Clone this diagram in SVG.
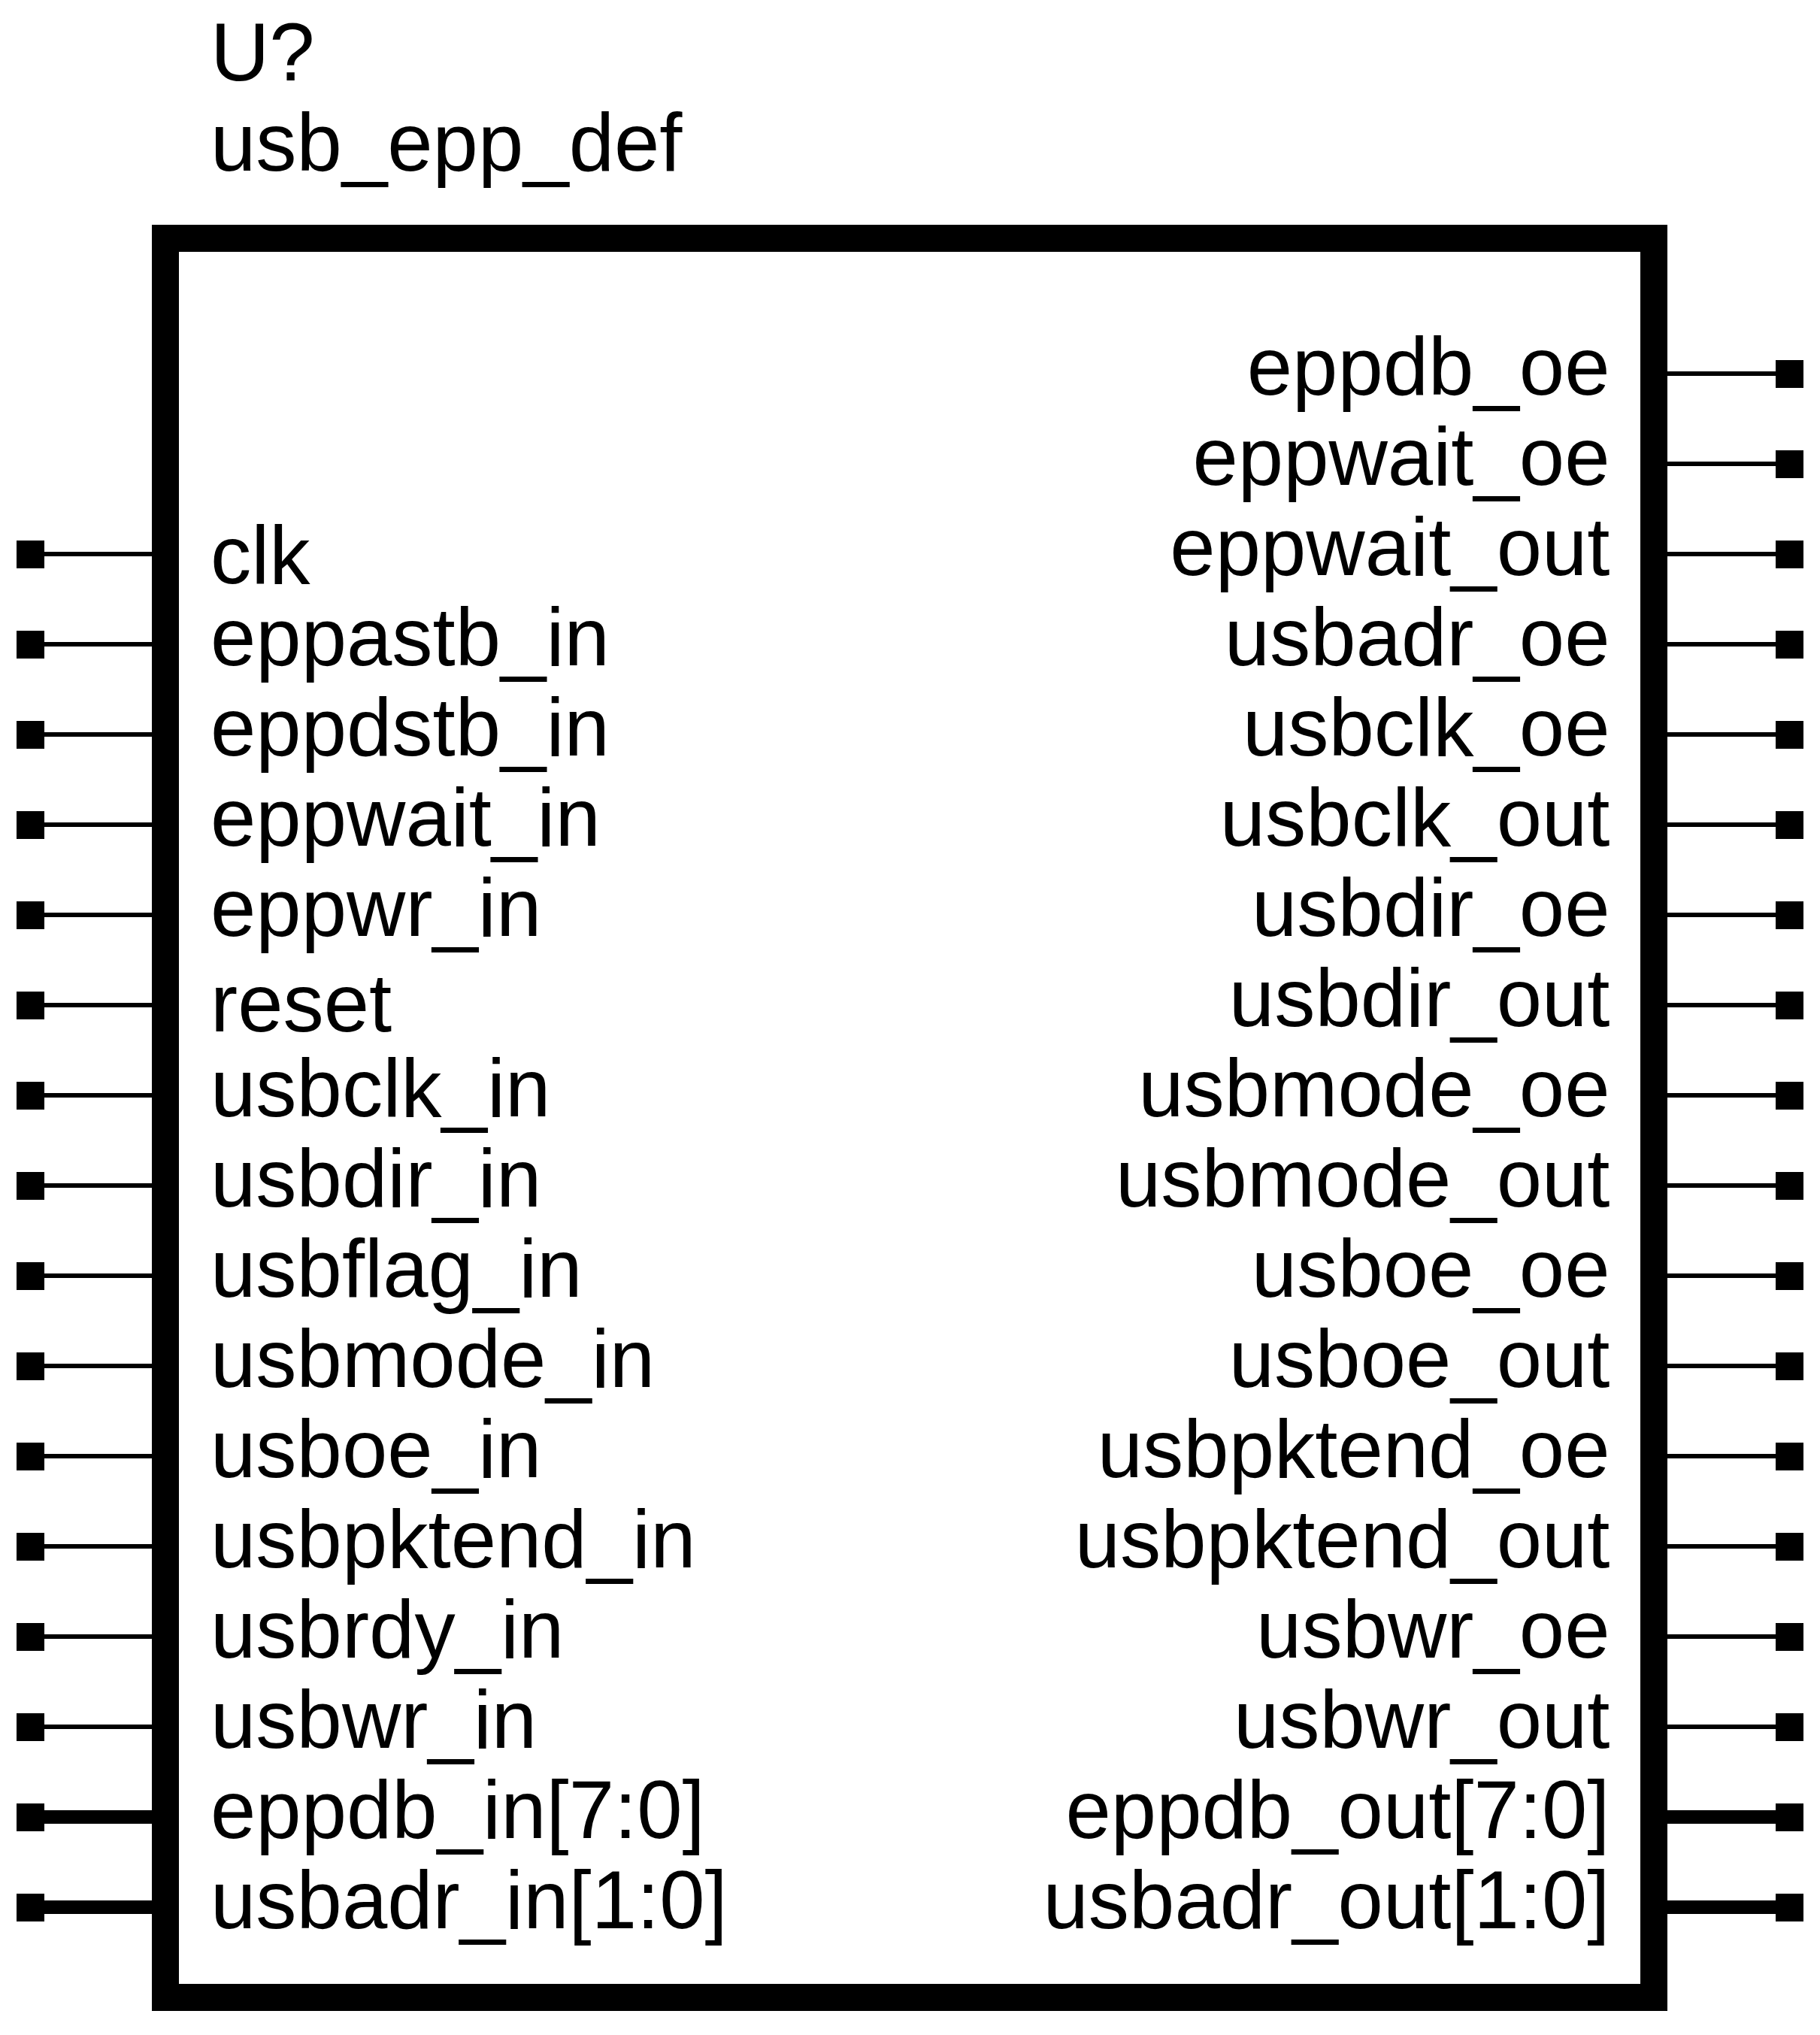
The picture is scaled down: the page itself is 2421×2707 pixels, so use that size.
<svg xmlns="http://www.w3.org/2000/svg" width="2421" height="2707" viewBox="0 0 2421 2707">
<style>
text{font-family:"Liberation Sans",Arial,sans-serif;font-size:108.5px;fill:#000}
.r{text-anchor:end}
.w{stroke:#000;stroke-width:6;fill:none}
.b{stroke:#000;stroke-width:18;fill:none}
.p{fill:#000}
</style>
<rect width="2421" height="2707" fill="#fff"/>
<g id="connectors">
<path class="w" d="M59 737H202M59 857H202M59 977H202M59 1097H202M59 1217H202M59 1337H202M59 1457H202M59 1577H202M59 1697H202M59 1817H202M59 1937H202M59 2057H202M59 2177H202M59 2297H202"/>
<path class="b" d="M59 2417H202M59 2537H202"/>
<path class="w" d="M2218 497H2362M2218 617H2362M2218 737H2362M2218 857H2362M2218 977H2362M2218 1097H2362M2218 1217H2362M2218 1337H2362M2218 1457H2362M2218 1577H2362M2218 1697H2362M2218 1817H2362M2218 1937H2362M2218 2057H2362M2218 2177H2362M2218 2297H2362"/>
<path class="b" d="M2218 2417H2362M2218 2537H2362"/>
</g>
<g id="block">
<rect x="220" y="317" width="1980" height="2340" fill="#fff" stroke="#000" stroke-width="36"/>
<text x="280" y="107">U?</text>
<text x="280" y="227">usb_epp_def</text>
</g>
<g id="pin-clk"><rect class="p" x="22" y="719" width="37" height="37"/><text x="280" y="776">clk</text></g>
<g id="pin-eppastb_in"><rect class="p" x="22" y="839" width="37" height="37"/><text x="280" y="885">eppastb_in</text></g>
<g id="pin-eppdstb_in"><rect class="p" x="22" y="959" width="37" height="37"/><text x="280" y="1005">eppdstb_in</text></g>
<g id="pin-eppwait_in"><rect class="p" x="22" y="1079" width="37" height="37"/><text x="280" y="1125">eppwait_in</text></g>
<g id="pin-eppwr_in"><rect class="p" x="22" y="1199" width="37" height="37"/><text x="280" y="1245">eppwr_in</text></g>
<g id="pin-reset"><rect class="p" x="22" y="1319" width="37" height="37"/><text x="280" y="1372">reset</text></g>
<g id="pin-usbclk_in"><rect class="p" x="22" y="1439" width="37" height="37"/><text x="280" y="1485">usbclk_in</text></g>
<g id="pin-usbdir_in"><rect class="p" x="22" y="1559" width="37" height="37"/><text x="280" y="1605">usbdir_in</text></g>
<g id="pin-usbflag_in"><rect class="p" x="22" y="1679" width="37" height="37"/><text x="280" y="1725">usbflag_in</text></g>
<g id="pin-usbmode_in"><rect class="p" x="22" y="1799" width="37" height="37"/><text x="280" y="1845">usbmode_in</text></g>
<g id="pin-usboe_in"><rect class="p" x="22" y="1919" width="37" height="37"/><text x="280" y="1965">usboe_in</text></g>
<g id="pin-usbpktend_in"><rect class="p" x="22" y="2039" width="37" height="37"/><text x="280" y="2085">usbpktend_in</text></g>
<g id="pin-usbrdy_in"><rect class="p" x="22" y="2159" width="37" height="37"/><text x="280" y="2205">usbrdy_in</text></g>
<g id="pin-usbwr_in"><rect class="p" x="22" y="2279" width="37" height="37"/><text x="280" y="2325">usbwr_in</text></g>
<g id="pin-eppdb_in"><rect class="p" x="22" y="2399" width="37" height="37"/><text x="280" y="2445">eppdb_in[7:0]</text></g>
<g id="pin-usbadr_in"><rect class="p" x="22" y="2519" width="37" height="37"/><text x="280" y="2565">usbadr_in[1:0]</text></g>
<g id="pin-eppdb_oe"><rect class="p" x="2362" y="479" width="37" height="37"/><text class="r" x="2141.5" y="525">eppdb_oe</text></g>
<g id="pin-eppwait_oe"><rect class="p" x="2362" y="599" width="37" height="37"/><text class="r" x="2141.5" y="645">eppwait_oe</text></g>
<g id="pin-eppwait_out"><rect class="p" x="2362" y="719" width="37" height="37"/><text class="r" x="2141.5" y="765">eppwait_out</text></g>
<g id="pin-usbadr_oe"><rect class="p" x="2362" y="839" width="37" height="37"/><text class="r" x="2141.5" y="885">usbadr_oe</text></g>
<g id="pin-usbclk_oe"><rect class="p" x="2362" y="959" width="37" height="37"/><text class="r" x="2141.5" y="1005">usbclk_oe</text></g>
<g id="pin-usbclk_out"><rect class="p" x="2362" y="1079" width="37" height="37"/><text class="r" x="2141.5" y="1125">usbclk_out</text></g>
<g id="pin-usbdir_oe"><rect class="p" x="2362" y="1199" width="37" height="37"/><text class="r" x="2141.5" y="1245">usbdir_oe</text></g>
<g id="pin-usbdir_out"><rect class="p" x="2362" y="1319" width="37" height="37"/><text class="r" x="2141.5" y="1365">usbdir_out</text></g>
<g id="pin-usbmode_oe"><rect class="p" x="2362" y="1439" width="37" height="37"/><text class="r" x="2141.5" y="1485">usbmode_oe</text></g>
<g id="pin-usbmode_out"><rect class="p" x="2362" y="1559" width="37" height="37"/><text class="r" x="2141.5" y="1605">usbmode_out</text></g>
<g id="pin-usboe_oe"><rect class="p" x="2362" y="1679" width="37" height="37"/><text class="r" x="2141.5" y="1725">usboe_oe</text></g>
<g id="pin-usboe_out"><rect class="p" x="2362" y="1799" width="37" height="37"/><text class="r" x="2141.5" y="1845">usboe_out</text></g>
<g id="pin-usbpktend_oe"><rect class="p" x="2362" y="1919" width="37" height="37"/><text class="r" x="2141.5" y="1965">usbpktend_oe</text></g>
<g id="pin-usbpktend_out"><rect class="p" x="2362" y="2039" width="37" height="37"/><text class="r" x="2141.5" y="2085">usbpktend_out</text></g>
<g id="pin-usbwr_oe"><rect class="p" x="2362" y="2159" width="37" height="37"/><text class="r" x="2141.5" y="2205">usbwr_oe</text></g>
<g id="pin-usbwr_out"><rect class="p" x="2362" y="2279" width="37" height="37"/><text class="r" x="2141.5" y="2325">usbwr_out</text></g>
<g id="pin-eppdb_out"><rect class="p" x="2362" y="2399" width="37" height="37"/><text class="r" x="2141.5" y="2445">eppdb_out[7:0]</text></g>
<g id="pin-usbadr_out"><rect class="p" x="2362" y="2519" width="37" height="37"/><text class="r" x="2141.5" y="2565">usbadr_out[1:0]</text></g>
</svg>
